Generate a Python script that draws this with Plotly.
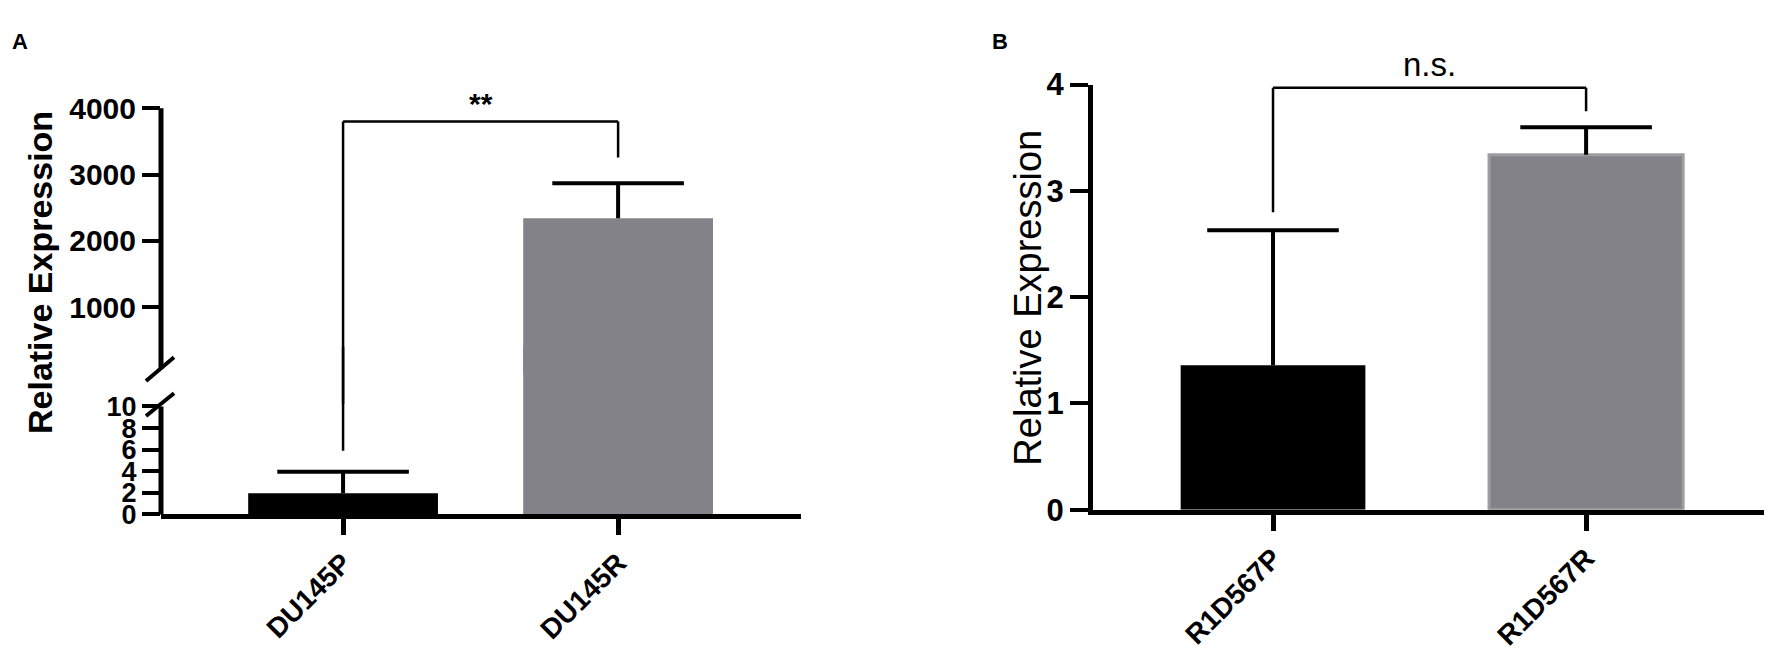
import plotly.graph_objects as go

# --- data ---
a_labels = ["DU145P", "DU145R"]
a_means = [1.95, 2340]
a_errs = [2.0, 530]
a_lower_ticks = [0, 2, 4, 6, 8, 10]
a_upper_ticks = [1000, 2000, 3000, 4000]
a_bracket = [3800, 5.9, 3257]  # bar height, left leg end (lower axis), right leg end

b_labels = ["R1D567P", "R1D567R"]
b_means = [1.36, 3.34]
b_errs = [1.27, 0.26]
b_ticks = [0, 1, 2, 3, 4]
b_bracket = [3.97, 2.80, 3.75]

colors = ["#000000", "#838288"]
edge_colors = ["#000000", "#9e9da2"]

W, H = 1772, 656
FONT = "Liberation Sans, Arial, sans-serif"


def px(x):
    return x / W


def py(y):
    return 1 - y / H


def bars(x, y, err, col, edge, lw, width, xa, ya):
    # stems only; the caps are drawn separately so no cap sits on the bar top
    return go.Bar(
        x=x,
        y=y,
        width=width,
        marker=dict(color=col, line=dict(color=edge, width=lw)),
        error_y=dict(
            type="data",
            symmetric=False,
            array=err,
            arrayminus=[0] * len(err),
            color="black",
            thickness=4,
            width=0,
        ),
        xaxis=xa,
        yaxis=ya,
        hoverinfo="skip",
    )


def caps(x, y, xa, ya):
    return go.Scatter(
        x=x,
        y=y,
        mode="markers",
        marker=dict(symbol="line-ew", size=94, color="black", line=dict(width=4, color="black")),
        xaxis=xa,
        yaxis=ya,
        hoverinfo="skip",
    )


a_tops = [m + e for m, e in zip(a_means, a_errs)]
b_tops = [m + e for m, e in zip(b_means, b_errs)]

fig = go.Figure()
# panel A, lower (0-10) segment holds both bars
fig.add_trace(bars([0, 1], a_means, a_errs, colors, edge_colors, [0, 0], [0.69, 0.69], "x", "y"))
fig.add_trace(caps([0], a_tops[:1], "x", "y"))
# panel A, upper segment only needs the tall bar
fig.add_trace(bars([1], a_means[1:], a_errs[1:], colors[1:], edge_colors[1:], [0], [0.69], "x2", "y2"))
fig.add_trace(caps([1], a_tops[1:], "x2", "y2"))
# panel B
fig.add_trace(bars([0, 1], b_means, b_errs, colors, edge_colors, [0, 3], [0.59, 0.62], "x3", "y3"))
fig.add_trace(caps([0, 1], b_tops, "x3", "y3"))

tick_bold = lambda s: dict(family=FONT, size=s, color="black", weight="bold")

xcommon = dict(
    tickvals=[0, 1],
    tickangle=-45,
    ticks="outside",
    ticklen=16,
    tickwidth=5,
    tickcolor="black",
    showline=True,
    linewidth=5,
    linecolor="black",
    showgrid=False,
    zeroline=False,
    tickfont=tick_bold(28),
    fixedrange=True,
)
ycommon = dict(
    ticks="outside",
    ticklen=18,
    tickwidth=4,
    tickcolor="black",
    linewidth=5,
    linecolor="black",
    showgrid=False,
    zeroline=False,
    fixedrange=True,
)

# panel A pixel scales: lower 11.4 px per unit (0 at y=517),
# upper 0.07 px per unit (4000 at y=88, 0 at y=368).
# The two segments overlap (transparent plot backgrounds) so the tall bar has no seam.
A_LOW_TOP = 340
A_UP_BOTTOM = 400
fig.update_layout(
    width=W,
    height=H,
    margin=dict(l=0, r=0, t=0, b=0),
    paper_bgcolor="white",
    plot_bgcolor="rgba(0,0,0,0)",
    showlegend=False,
    xaxis=dict(
        domain=[px(153), px(793)], range=[-0.662, 1.665], anchor="y",
        ticktext=a_labels, **xcommon
    ),
    yaxis=dict(
        domain=[py(517), py(A_LOW_TOP)], range=[0, (517 - A_LOW_TOP) / 11.4], anchor="x",
        tickvals=a_lower_ticks, showline=False, tickfont=tick_bold(27), **ycommon
    ),
    xaxis2=dict(
        domain=[px(153), px(793)], range=[-0.662, 1.665], anchor="y2",
        matches="x", visible=False
    ),
    yaxis2=dict(
        domain=[py(A_UP_BOTTOM), py(88)], range=[-(A_UP_BOTTOM - 368) / 0.07, 4000], anchor="x2",
        tickvals=a_upper_ticks, showline=False, tickfont=tick_bold(30), **ycommon
    ),
    xaxis3=dict(
        domain=[px(1085), px(1770)], range=[-0.575, 1.613], anchor="y3",
        ticktext=b_labels, **xcommon
    ),
    yaxis3=dict(
        domain=[py(512), py(63)], range=[0, 4], anchor="x3",
        tickvals=b_ticks, showline=True, tickfont=tick_bold(31), **ycommon
    ),
)

line = lambda w: dict(color="black", width=w)
shapes = [
    # broken y axis of panel A: lower piece 0..10, upper piece from the break to 4000
    dict(type="line", xref="x domain", yref="y", x0=0, x1=0, y0=-1, y1=10, line=line(5)),
    dict(type="line", xref="x2 domain", yref="y2", x0=0, x1=0, y0=70, y1=4030, line=line(5)),
    # axis break slashes
    dict(type="line", xref="paper", yref="paper", x0=px(138), y0=py(376), x1=px(166), y1=py(351), line=line(4)),
    dict(type="line", xref="paper", yref="paper", x0=px(138), y0=py(413), x1=px(166), y1=py(389), line=line(4)),
    # significance bracket, panel A
    dict(type="line", xref="x2", yref="y2", x0=0, x1=1, y0=a_bracket[0], y1=a_bracket[0], line=line(2.5)),
    dict(type="line", xref="x2", yref="y2", x0=1, x1=1, y0=a_bracket[0], y1=a_bracket[2], line=line(2.5)),
    dict(type="line", xref="x2", yref="y2", x0=0, x1=0, y0=a_bracket[0], y1=-2000, line=line(2.5)),
    dict(type="line", xref="x", yref="y", x0=0, x1=0, y0=a_bracket[1], y1=40, line=line(2.5)),
    # significance bracket, panel B
    dict(type="line", xref="x3", yref="y3", x0=0, x1=1, y0=b_bracket[0], y1=b_bracket[0], line=line(2.5)),
    dict(type="line", xref="x3", yref="y3", x0=0, x1=0, y0=b_bracket[0], y1=b_bracket[1], line=line(2.5)),
    dict(type="line", xref="x3", yref="y3", x0=1, x1=1, y0=b_bracket[0], y1=b_bracket[2], line=line(2.5)),
]
fig.update_layout(shapes=shapes)

annotations = [
    dict(text="**", xref="x2", yref="paper", x=0.5, y=py(83), showarrow=False,
         font=tick_bold(30), xanchor="center", yanchor="middle"),
    dict(text="n.s.", xref="x3", yref="paper", x=0.5, y=py(42), showarrow=False,
         font=dict(family=FONT, size=33, color="black"), xanchor="center", yanchor="middle"),
    dict(text="Relative Expression", xref="paper", yref="paper", x=px(32), y=py(262),
         textangle=-90, showarrow=False, font=tick_bold(34), xanchor="center", yanchor="middle"),
    dict(text="Relative Expression", xref="paper", yref="paper", x=px(1020), y=py(288),
         textangle=-90, showarrow=False, font=dict(family=FONT, size=38, color="black"),
         xanchor="center", yanchor="middle"),
    dict(text="A", xref="paper", yref="paper", x=px(12), y=py(17), showarrow=False,
         font=tick_bold(22), xanchor="center", yanchor="middle"),
    dict(text="B", xref="paper", yref="paper", x=px(992), y=py(17), showarrow=False,
         font=tick_bold(22), xanchor="center", yanchor="middle"),
]
fig.update_layout(annotations=annotations)

fig.write_html("out.html")
